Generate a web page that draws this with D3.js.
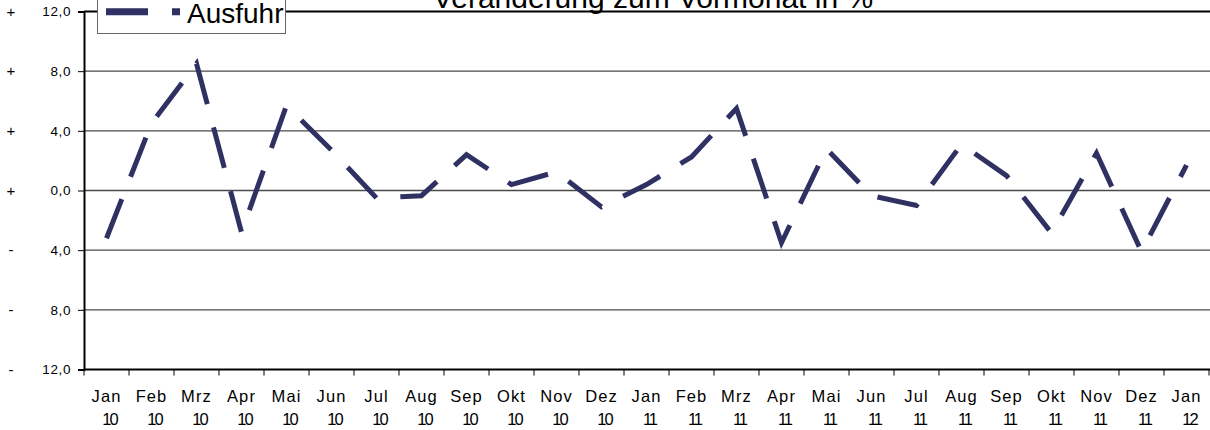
<!DOCTYPE html>
<html>
<head>
<meta charset="utf-8">
<script src="https://cdn.jsdelivr.net/npm/d3@7"></script>
<style>
  html, body { margin: 0; padding: 0; background: #fff; }
  svg { display: block; font-family: "Liberation Sans", Arial, sans-serif; }
</style>
</head>
<body>
<svg id="chart" width="1210" height="430"></svg>
<script>
const months = ["Jan","Feb","Mrz","Apr","Mai","Jun","Jul","Aug","Sep","Okt","Nov","Dez",
                "Jan","Feb","Mrz","Apr","Mai","Jun","Jul","Aug","Sep","Okt","Nov","Dez","Jan"];
const years = ["10","10","10","10","10","10","10","10","10","10","10","10",
               "11","11","11","11","11","11","11","11","11","11","11","11","12"];
const ausfuhr = [-3.2, 4.5, 8.5, -2.8, 5.7, 2.7, -0.5, -0.35, 2.4, 0.4, 1.25, -1.1,
                 0.4, 2.25, 5.5, -3.5, 2.8, -0.35, -1.0, 3.1, 1.0, -2.85, 2.5, -4.1, 1.7];
const yTicks = [12, 8, 4, 0, -4, -8, -12];
const yTickLabels = ["12,0", "8,0", "4,0", "0,0", "4,0", "8,0", "12,0"];
const ySigns = ["+", "+", "+", "+", "-", "-", "-"];
const title = "Veränderung zum Vormonat in %";
const seriesName = "Ausfuhr";

(function () {
const lineColor = "#2f3163";
const svg = d3.select("#chart");
const pLeft = 84, pRight = 1209, pTop = 11.5, pBottom = 369.5;
const cats = months.map((m, i) => i);

const x = d3.scaleBand().domain(cats).range([pLeft, pRight]).padding(0);
const y = d3.scaleLinear().domain([-12, 12]).range([pBottom, pTop]);
const cx = i => x(i) + x.bandwidth() / 2;

// gridlines
svg.append("g").selectAll("line")
  .data(yTicks.filter(v => v !== 12 && v !== -12))
  .join("line")
  .attr("x1", pLeft).attr("x2", 1210)
  .attr("y1", d => y(d)).attr("y2", d => y(d))
  .attr("stroke", "#4a4a4a").attr("stroke-width", 1.3);

// top line
svg.append("line")
  .attr("x1", pLeft).attr("x2", 1210)
  .attr("y1", y(12)).attr("y2", y(12))
  .attr("stroke", "#000").attr("stroke-width", 2);

// y axis
const yAxis = svg.append("g")
  .attr("transform", `translate(${pLeft},0)`)
  .call(d3.axisLeft(y).tickValues(yTicks)
    .tickFormat((d, i) => yTickLabels[i]).tickSize(6).tickPadding(7));
yAxis.select(".domain").attr("stroke", "#000").attr("stroke-width", 2);
yAxis.selectAll(".tick line").attr("stroke", "#000");
yAxis.selectAll(".tick text")
  .attr("font-size", 13.5).attr("letter-spacing", 0.6)
  .attr("font-family", "Liberation Sans, Arial, sans-serif").attr("fill", "#000");

// sign column
svg.append("g").selectAll("text")
  .data(yTicks)
  .join("text")
  .attr("x", 11).attr("y", d => y(d) + 5)
  .attr("text-anchor", "middle")
  .attr("font-size", 15)
  .attr("fill", "#000")
  .text((d, i) => ySigns[i]);

// x axis line
svg.append("line")
  .attr("x1", pLeft).attr("x2", 1210)
  .attr("y1", pBottom).attr("y2", pBottom)
  .attr("stroke", "#000").attr("stroke-width", 2);

// x ticks at band boundaries
const boundaries = cats.map(i => x(i)).concat([x.range()[1]]);
svg.append("g").selectAll("line")
  .data(boundaries)
  .join("line")
  .attr("x1", d => d).attr("x2", d => d)
  .attr("y1", pBottom).attr("y2", pBottom + 6)
  .attr("stroke", "#000").attr("stroke-width", 1);

// x labels
const xl = svg.append("g").selectAll("text")
  .data(cats)
  .join("text")
  .attr("text-anchor", "middle")
  .attr("font-size", 16.5)
  .attr("fill", "#000");
xl.append("tspan")
  .attr("x", d => cx(d)).attr("y", 402)
  .attr("letter-spacing", 1.1)
  .text(d => months[d]);
xl.append("tspan")
  .attr("x", d => cx(d) + 3).attr("y", 425)
  .attr("letter-spacing", -2)
  .text(d => years[d]);

// data line
const line = d3.line().x((d, i) => cx(i)).y(d => y(d));
svg.append("path")
  .datum(ausfuhr)
  .attr("d", line)
  .attr("fill", "none")
  .attr("stroke", lineColor)
  .attr("stroke-width", 5)
  .attr("stroke-dasharray", "42,24")
  .attr("stroke-linejoin", "miter")
  .attr("stroke-linecap", "butt");

// title
svg.append("text")
  .attr("x", 653).attr("y", 8)
  .attr("text-anchor", "middle")
  .attr("font-size", 30)
  .text(title);

// legend
const lg = svg.append("g");
lg.append("rect")
  .attr("x", 97.5).attr("y", -5).attr("width", 188).attr("height", 38.5)
  .attr("fill", "#fff");
lg.append("line")
  .attr("x1", 106).attr("x2", 180).attr("y1", 11.7).attr("y2", 11.7)
  .attr("stroke", lineColor).attr("stroke-width", 7)
  .attr("stroke-dasharray", "42,24");
lg.append("text")
  .attr("x", 187).attr("y", 23)
  .attr("font-size", 28)
  .text(seriesName);
lg.append("rect")
  .attr("x", 97.5).attr("y", -5).attr("width", 188).attr("height", 38.5)
  .attr("fill", "none").attr("stroke", "#666").attr("stroke-width", 1);
})();
</script>
</body>
</html>
